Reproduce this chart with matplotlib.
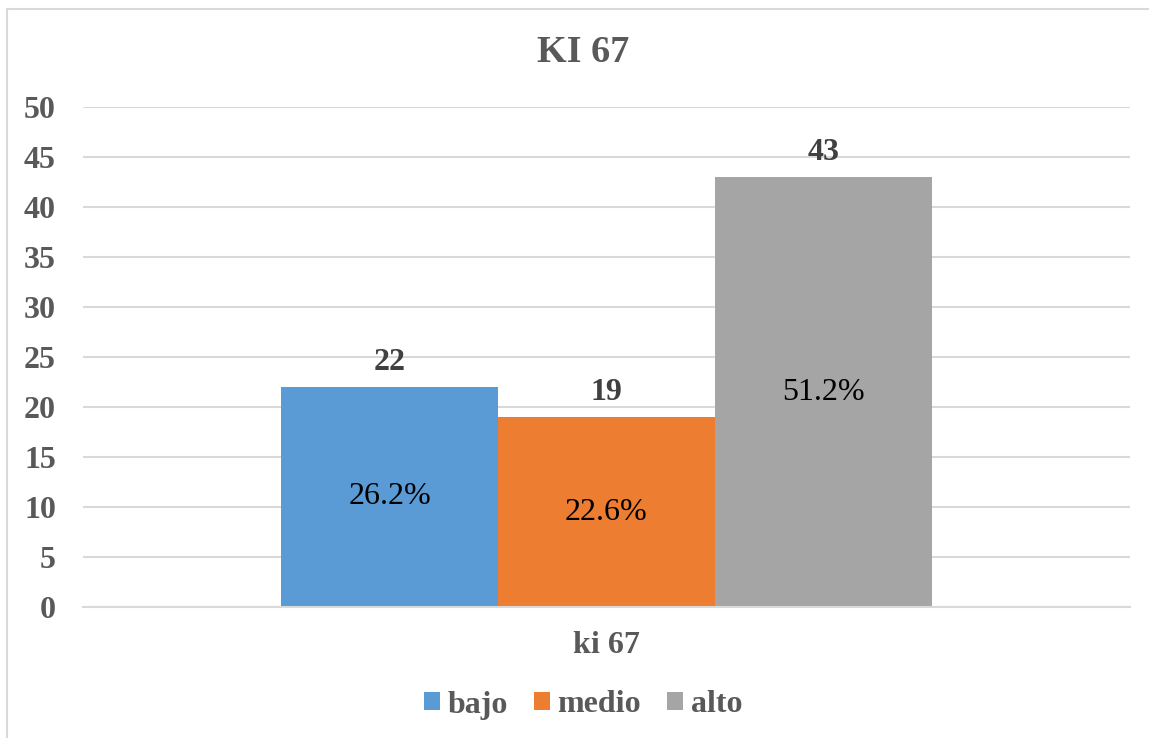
import matplotlib
matplotlib.use("Agg")
import matplotlib.pyplot as plt
from matplotlib.patches import Patch, Rectangle

categories = ["bajo", "medio", "alto"]
counts = [22, 19, 43]
percents = ["26.2%", "22.6%", "51.2%"]
group_label = "ki 67"
title = "KI 67"
colors = ["#5B9BD5", "#ED7D31", "#A5A5A5"]
yticks = list(range(0, 51, 5))

plt.rcParams["font.family"] = ["Liberation Serif", "DejaVu Serif"]
W, H = 1149, 738
FS = 23
fig = plt.figure(figsize=(W / 100, H / 100), dpi=100)

# outer chart frame (only left and top visible)
fig.patches.append(Rectangle((6.5 / W, -0.1), 1.2, 1 - 9 / H + 0.1, transform=fig.transFigure,
                             fill=False, edgecolor="#D9D9D9", linewidth=1.5))

ax = fig.add_axes([83 / W, (H - 607) / H, 1047 / W, 500 / H])
bw = 217 / 1047
offsets = [(i - 1) * bw for i in range(len(categories))]
for off, n, p, col in zip(offsets, counts, percents, colors):
    ax.bar(off, n, width=bw, color=col, zorder=2)
    ax.annotate(str(n), (off, n), xytext=(0, 25), textcoords="offset pixels",
                ha="center", va="center", fontsize=FS, fontweight="bold", color="#404040")
    ax.text(off, n / 2, p, ha="center", va="center", fontsize=FS, color="black")

ax.set_xlim(-0.5, 0.5)
ax.set_ylim(0, 50)
ax.set_yticks(yticks)
ax.set_yticklabels([str(t) for t in yticks], fontsize=FS, fontweight="bold", color="#595959")
ax.set_xticks([0])
ax.set_xticklabels([group_label], fontsize=FS, fontweight="bold", color="#595959")
ax.tick_params(axis="both", length=0)
ax.tick_params(axis="y", pad=19.5)
ax.tick_params(axis="x", pad=17)
ax.grid(axis="y", color="#D9D9D9", linewidth=1.5, zorder=0)
for s in ["top", "right", "left"]:
    ax.spines[s].set_visible(False)
ax.spines["bottom"].set_color("#D9D9D9")
ax.spines["bottom"].set_linewidth(1.5)

fig.text(583 / W, 1 - 52 / H, title, ha="center", va="center", fontsize=27.5,
         fontweight="bold", color="#595959")

handles = [Patch(facecolor=c, edgecolor="none") for c in colors]
leg = fig.legend(handles, categories, loc="center", bbox_to_anchor=(583 / W, 1 - 705 / H), ncol=3,
                 frameon=False, handlelength=0.5, handleheight=0.5, handletextpad=0.25,
                 columnspacing=0.8, prop={"size": FS, "weight": "bold"})
for t in leg.get_texts():
    t.set_color("#595959")

fig.savefig("out.png", dpi=100)
